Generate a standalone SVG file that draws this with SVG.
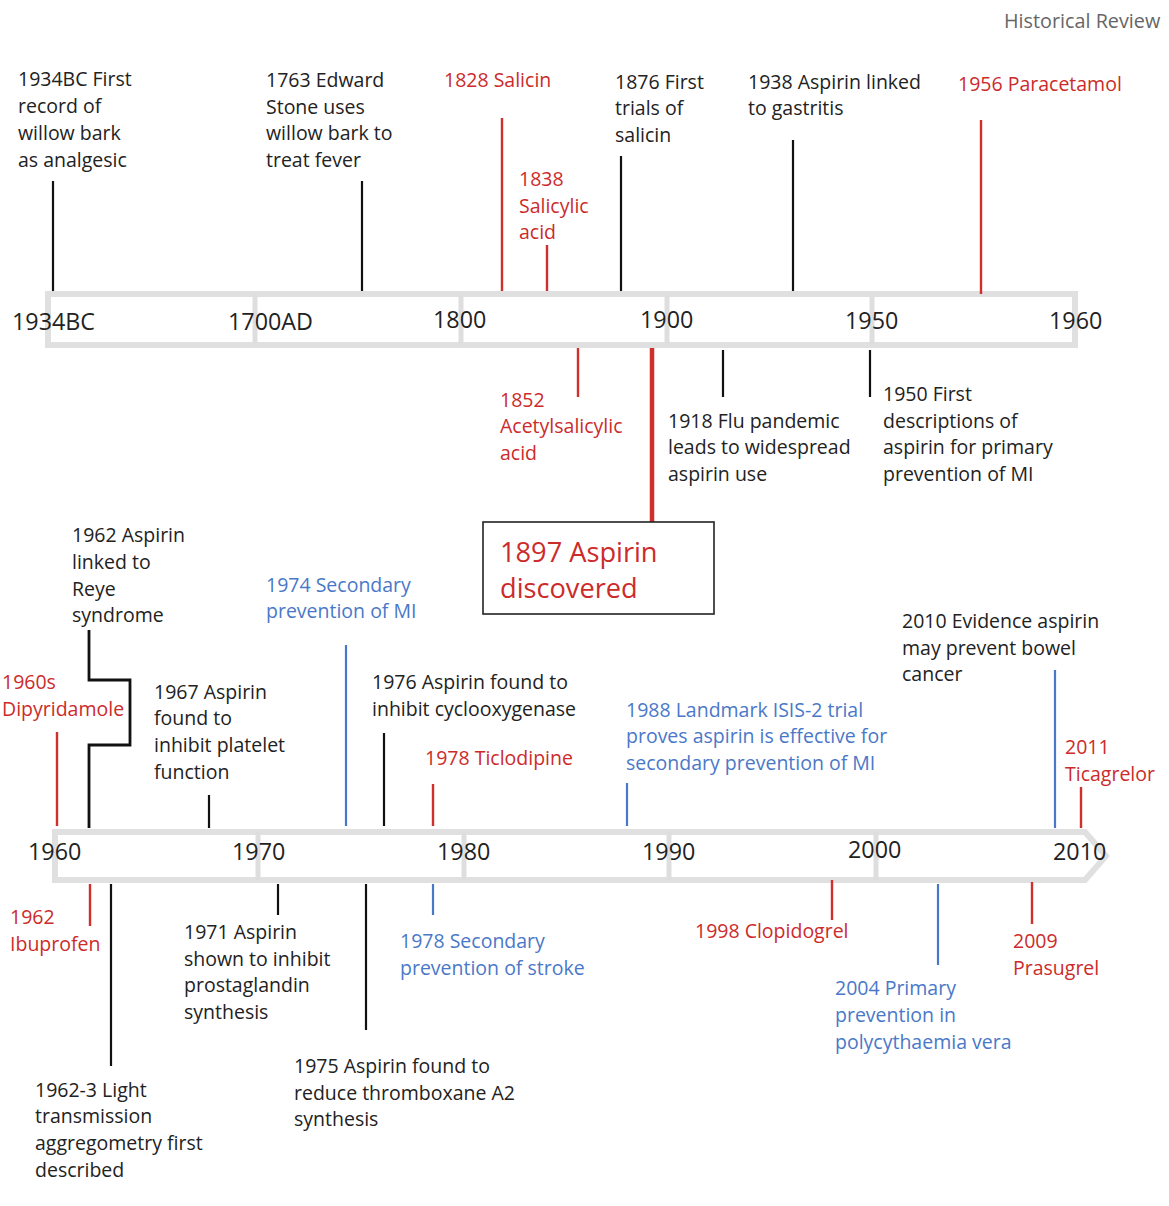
<svg xmlns="http://www.w3.org/2000/svg" width="1169" height="1206" viewBox="0 0 1169 1206">
<style>
text{font-family:"Open Sans","Noto Sans","Liberation Sans",sans-serif;font-size:19.5px;fill:#222}
.r{fill:#cc2b2b}.b{fill:#4a78c8}
.yr{font-size:23.3px}
.bar{fill:#fff;stroke:#e0e0e0;stroke-width:6}
.div{stroke:#dedede;stroke-width:5}
.lk{stroke:#111;stroke-width:2.2;fill:none}
.lr{stroke:#d0302c;stroke-width:2.4;fill:none}
.lb{stroke:#4a78c8;stroke-width:2.2;fill:none}
</style>
<rect width="1169" height="1206" fill="#fff"/>
<text x="1004" y="28" style="fill:#666;font-size:19.8px">Historical Review</text>

<g id="top-axis">
<rect class="bar" x="48" y="294" width="1027" height="51"/>
<line class="div" x1="255" y1="294" x2="255" y2="345"/>
<line class="div" x1="461" y1="294" x2="461" y2="345"/>
<line class="div" x1="667" y1="294" x2="667" y2="345"/>
<line class="div" x1="872" y1="294" x2="872" y2="345"/>
<text class="yr" x="12" y="330">1934BC</text>
<text class="yr" x="228" y="330">1700AD</text>
<text class="yr" x="433" y="328">1800</text>
<text class="yr" x="640" y="328">1900</text>
<text class="yr" x="845" y="329">1950</text>
<text class="yr" x="1049" y="329">1960</text>
</g>

<g id="bottom-axis">
<path class="bar" d="M55 832 H1085 L1106 856 L1085 880 H55 Z"/>
<line class="div" x1="258" y1="832" x2="258" y2="880"/>
<line class="div" x1="464" y1="832" x2="464" y2="880"/>
<line class="div" x1="669" y1="832" x2="669" y2="880"/>
<line class="div" x1="876" y1="832" x2="876" y2="880"/>
<text class="yr" x="28" y="860">1960</text>
<text class="yr" x="232" y="860">1970</text>
<text class="yr" x="437" y="860">1980</text>
<text class="yr" x="642" y="860">1990</text>
<text class="yr" x="848" y="858">2000</text>
<text class="yr" x="1053" y="860">2010</text>
</g>

<g id="connectors">
<line class="lk" x1="53" y1="181" x2="53" y2="291"/>
<line class="lk" x1="362" y1="181" x2="362" y2="291"/>
<line class="lr" x1="502" y1="118" x2="502" y2="291"/>
<line class="lr" x1="547" y1="245" x2="547" y2="291"/>
<line class="lk" x1="621" y1="156" x2="621" y2="291"/>
<line class="lk" x1="793" y1="140" x2="793" y2="291"/>
<line class="lr" x1="981" y1="120" x2="981" y2="294"/>
<line class="lr" x1="578" y1="348" x2="578" y2="397"/>
<line class="lr" x1="652" y1="348" x2="652" y2="522" style="stroke-width:4.5"/>
<line class="lk" x1="723" y1="350" x2="723" y2="397"/>
<line class="lk" x1="870" y1="350" x2="870" y2="397"/>
<line class="lr" x1="57" y1="732" x2="57" y2="826"/>
<path class="lk" d="M89 828 V745 H130 V680 H89 V630" style="stroke-width:2.8"/>
<line class="lk" x1="209" y1="795" x2="209" y2="828"/>
<line class="lb" x1="346" y1="645" x2="346" y2="826"/>
<line class="lk" x1="384" y1="733" x2="384" y2="826"/>
<line class="lr" x1="433" y1="784" x2="433" y2="826"/>
<line class="lb" x1="627" y1="783" x2="627" y2="826"/>
<line class="lb" x1="1055" y1="670" x2="1055" y2="828"/>
<line class="lr" x1="1081" y1="787" x2="1081" y2="828"/>
<line class="lr" x1="90" y1="884" x2="90" y2="926"/>
<line class="lk" x1="111" y1="884" x2="111" y2="1066"/>
<line class="lk" x1="278" y1="884" x2="278" y2="915"/>
<line class="lk" x1="366" y1="884" x2="366" y2="1030"/>
<line class="lb" x1="433" y1="884" x2="433" y2="915"/>
<line class="lr" x1="832" y1="880" x2="832" y2="920"/>
<line class="lb" x1="938" y1="884" x2="938" y2="965"/>
<line class="lr" x1="1032" y1="882" x2="1032" y2="924"/>
</g>

<g id="n1934bc"><text x="18" y="86">1934BC First</text><text x="18" y="113">record of</text><text x="18" y="140">willow bark</text><text x="18" y="167">as analgesic</text></g>
<g id="n1763"><text x="266" y="87">1763 Edward</text><text x="266" y="114">Stone uses</text><text x="266" y="140">willow bark to</text><text x="266" y="167">treat fever</text></g>
<g id="n1828"><text class="r" x="444" y="87">1828 Salicin</text></g>
<g id="n1838"><text class="r" x="519" y="186">1838</text><text class="r" x="519" y="213">Salicylic</text><text class="r" x="519" y="239">acid</text></g>
<g id="n1876"><text x="615" y="89">1876 First</text><text x="615" y="115">trials of</text><text x="615" y="142">salicin</text></g>
<g id="n1938"><text x="748" y="89">1938 Aspirin linked</text><text x="748" y="115">to gastritis</text></g>
<g id="n1956"><text class="r" x="958" y="91">1956 Paracetamol</text></g>
<g id="n1852"><text class="r" x="500" y="407">1852</text><text class="r" x="500" y="433">Acetylsalicylic</text><text class="r" x="500" y="460">acid</text></g>
<g id="n1897"><rect x="483" y="522" width="231" height="92" fill="#fff" stroke="#222" stroke-width="1.6"/><text class="r" x="500" y="562" style="font-size:27.2px">1897 Aspirin</text><text class="r" x="500" y="598" style="font-size:27.2px">discovered</text></g>
<g id="n1918"><text x="668" y="428">1918 Flu pandemic</text><text x="668" y="454">leads to widespread</text><text x="668" y="481">aspirin use</text></g>
<g id="n1950"><text x="883" y="401">1950 First</text><text x="883" y="428">descriptions of</text><text x="883" y="454">aspirin for primary</text><text x="883" y="481">prevention of MI</text></g>

<g id="n1960s"><text class="r" x="2" y="689">1960s</text><text class="r" x="2" y="716">Dipyridamole</text></g>
<g id="n1962reye"><text x="72" y="542">1962 Aspirin</text><text x="72" y="569">linked to</text><text x="72" y="596">Reye</text><text x="72" y="622">syndrome</text></g>
<g id="n1967"><text x="154" y="699">1967 Aspirin</text><text x="154" y="725">found to</text><text x="154" y="752">inhibit platelet</text><text x="154" y="779">function</text></g>
<g id="n1974"><text class="b" x="266" y="592">1974 Secondary</text><text class="b" x="266" y="618">prevention of MI</text></g>
<g id="n1976"><text x="372" y="689">1976 Aspirin found to</text><text x="372" y="716">inhibit cyclooxygenase</text></g>
<g id="n1978t"><text class="r" x="425" y="765">1978 Ticlodipine</text></g>
<g id="n1988"><text class="b" x="626" y="717">1988 Landmark ISIS-2 trial</text><text class="b" x="626" y="743">proves aspirin is effective for</text><text class="b" x="626" y="770">secondary prevention of MI</text></g>
<g id="n2010"><text x="902" y="628">2010 Evidence aspirin</text><text x="902" y="655">may prevent bowel</text><text x="902" y="681">cancer</text></g>
<g id="n2011"><text class="r" x="1065" y="754">2011</text><text class="r" x="1065" y="781">Ticagrelor</text></g>

<g id="n1962ibu"><text class="r" x="10" y="924">1962</text><text class="r" x="10" y="951">Ibuprofen</text></g>
<g id="n1962lta"><text x="35" y="1097">1962-3 Light</text><text x="35" y="1123">transmission</text><text x="35" y="1150">aggregometry first</text><text x="35" y="1177">described</text></g>
<g id="n1971"><text x="184" y="939">1971 Aspirin</text><text x="184" y="966">shown to inhibit</text><text x="184" y="992">prostaglandin</text><text x="184" y="1019">synthesis</text></g>
<g id="n1975"><text x="294" y="1073">1975 Aspirin found to</text><text x="294" y="1100">reduce thromboxane A2</text><text x="294" y="1126">synthesis</text></g>
<g id="n1978s"><text class="b" x="400" y="948">1978 Secondary</text><text class="b" x="400" y="975">prevention of stroke</text></g>
<g id="n1998"><text class="r" x="695" y="938">1998 Clopidogrel</text></g>
<g id="n2004"><text class="b" x="835" y="995">2004 Primary</text><text class="b" x="835" y="1022">prevention in</text><text class="b" x="835" y="1049">polycythaemia vera</text></g>
<g id="n2009"><text class="r" x="1013" y="948">2009</text><text class="r" x="1013" y="975">Prasugrel</text></g>
</svg>
